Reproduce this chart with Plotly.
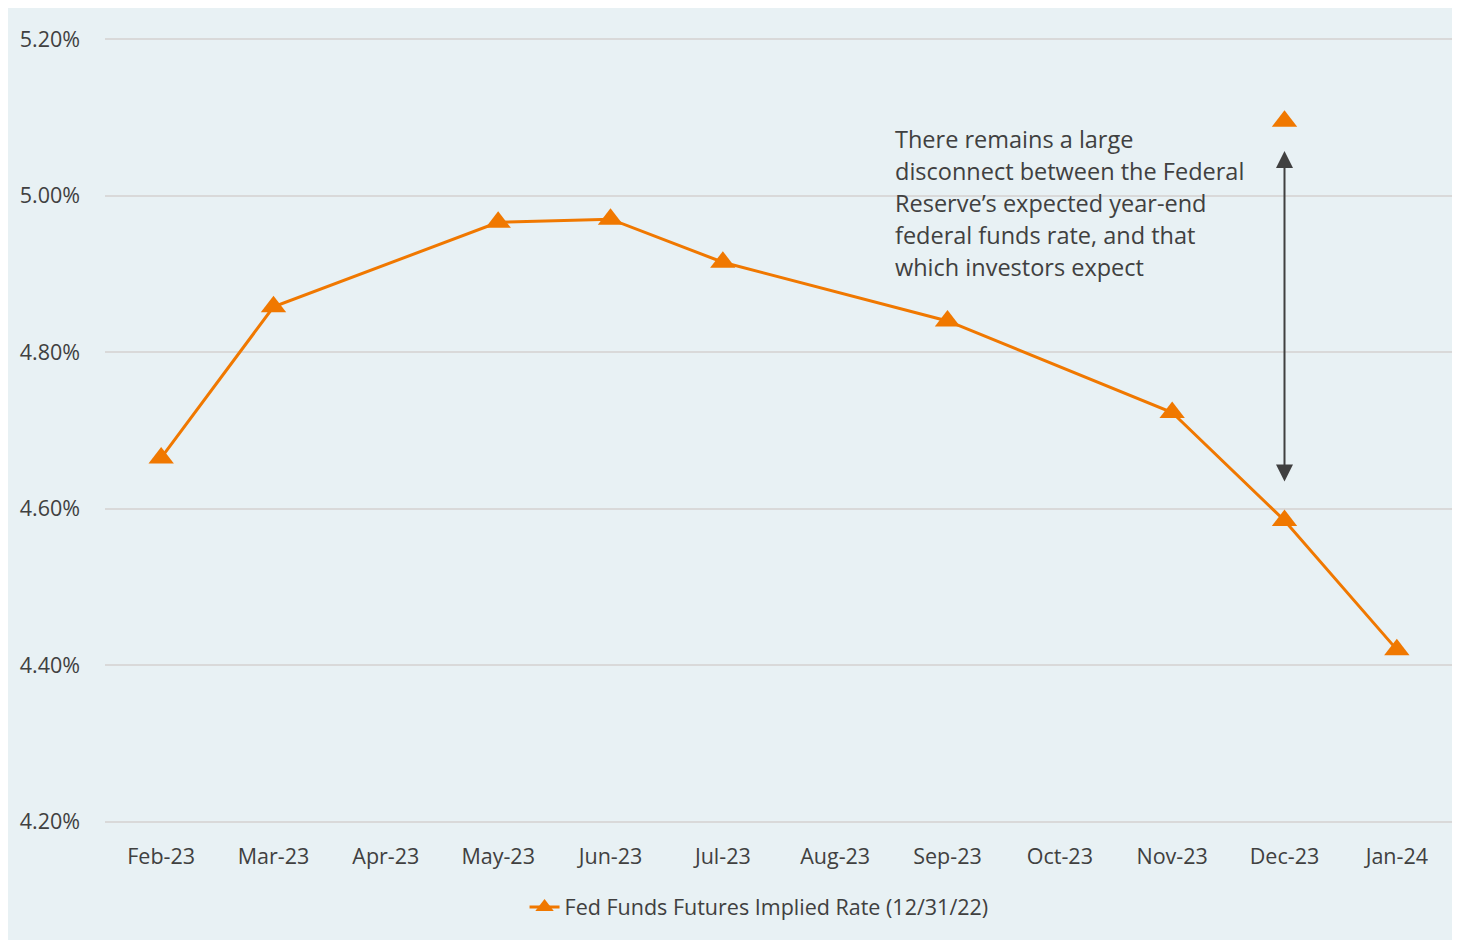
import plotly.graph_objects as go

months = ["Feb-23", "Mar-23", "Apr-23", "May-23", "Jun-23", "Jul-23",
          "Aug-23", "Sep-23", "Oct-23", "Nov-23", "Dec-23", "Jan-24"]
# implied rate (%), None where the source has no point
implied_rate = [4.665, 4.858, None, 4.966, 4.970, 4.915,
                None, 4.840, None, 4.723, 4.585, 4.420]
fed_month = ["Dec-23"]
fed_rate = [5.095]
y_ticks = [4.20, 4.40, 4.60, 4.80, 5.00, 5.20]
note_lines = ["There remains a large",
              "disconnect between the Federal",
              "Reserve\u2019s expected year-end",
              "federal funds rate, and that",
              "which investors expect"]

ORANGE = "#f07800"
BG = "#e8f1f4"
TXT = "#404040"
FONT = "Open Sans"

fig = go.Figure()
fig.add_trace(go.Scatter(
    x=months, y=implied_rate, mode="lines+markers", connectgaps=True,
    name="Fed Funds Futures Implied Rate (12/31/22)",
    line=dict(color=ORANGE, width=3),
    marker=dict(symbol="triangle-up", size=22, color=ORANGE),
))
fig.add_trace(go.Scatter(
    x=fed_month, y=fed_rate, mode="markers", showlegend=False,
    marker=dict(symbol="triangle-up", size=22, color=ORANGE),
))

# double-headed arrow between the two Dec-23 points
fig.add_annotation(
    x="Dec-23", y=5.057, ax="Dec-23", ay=4.633,
    xref="x", yref="y", axref="x", ayref="y",
    showarrow=True, arrowhead=2, startarrowhead=2, arrowside="end+start",
    arrowsize=1.7, startarrowsize=1.7, arrowwidth=2, arrowcolor=TXT, text="",
)

# note text, one annotation per line (32 px line pitch = 0.0408 in y units)
for i, line in enumerate(note_lines):
    fig.add_annotation(
        x=6.512, y=5.072 - i * 0.0408, xref="x", yref="y",
        xanchor="left", yanchor="middle",
        text=line, showarrow=False, align="left",
        font=dict(family=FONT, size=23.5, color=TXT),
    )

fig.update_layout(
    width=1452, height=932,
    paper_bgcolor=BG, plot_bgcolor=BG,
    margin=dict(l=97, r=7, t=30, b=117),
    font=dict(family=FONT, color=TXT, size=21.5),
    showlegend=True,
    legend=dict(orientation="h", x=0.4852, xanchor="center", y=-0.107, yanchor="middle",
                font=dict(size=21.5, color=TXT), bgcolor="rgba(0,0,0,0)"),
    xaxis=dict(type="category", categoryorder="array", categoryarray=months,
               showgrid=False, showline=False, ticks="", zeroline=False,
               ticklabelstandoff=18,
               tickfont=dict(size=21.5, color=TXT), range=[-0.5, 11.5]),
    yaxis=dict(range=[4.1985, 5.2015], tickvals=y_ticks,
               ticktext=[f"{v:.2f}%" for v in y_ticks],
               showgrid=True, gridcolor="#d9d9d9", gridwidth=2,
               zeroline=False, showline=False, ticks="", ticklabelstandoff=24,
               tickfont=dict(size=21.5, color=TXT)),
)

fig.write_html("out.html")
